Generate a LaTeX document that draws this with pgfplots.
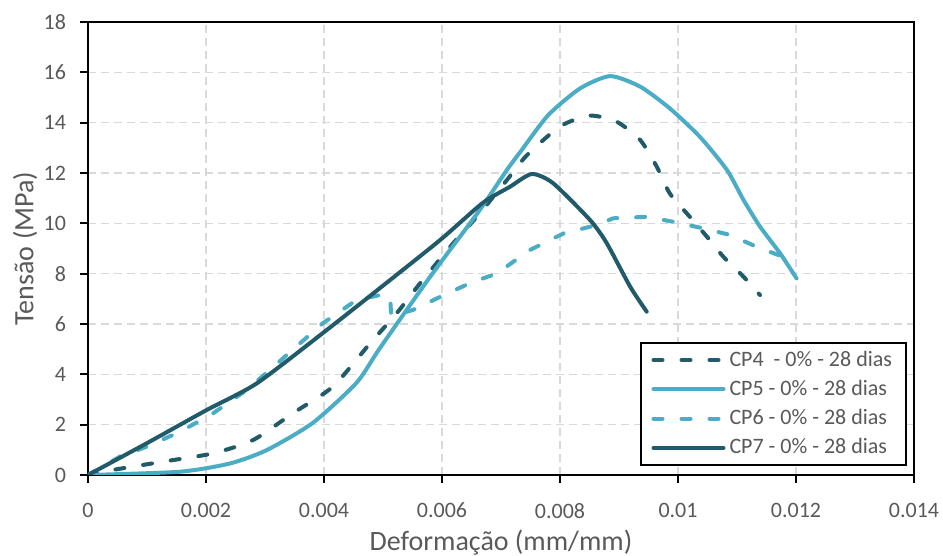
\documentclass[border=0pt]{standalone}
\usepackage{pgfplots}
\pgfplotsset{compat=1.18}
\usepackage{fontspec}
\setmainfont{Carlito}
\definecolor{darkteal}{HTML}{215B69}
\definecolor{lightaqua}{HTML}{4BACC6}
\definecolor{txtgray}{HTML}{595959}
\definecolor{gridgray}{HTML}{D9D9D9}

\begin{document}
\begin{tikzpicture}
\path[use as bounding box] (-44pt,-40.5pt) rectangle (427.5pt,237.5pt);
\begin{axis}[
  at={(0,0)}, anchor=south west,
  scale only axis,
  width=413pt, height=226.5pt,
  xmin=0, xmax=0.014,
  ymin=0, ymax=18,
  xtick={0,0.002,0.004,0.006,0.008,0.01,0.012,0.014},
  ytick={0,2,4,6,8,10,12,14,16,18},
  scaled x ticks=false,
  xticklabel style={/pgf/number format/fixed, /pgf/number format/precision=3, yshift=-6.5pt},
  yticklabel style={xshift=-3.5pt},
  /pgf/number format/assume math mode=true,
  tick align=outside,
  tick pos=left,
  major tick length=4pt,
  axis line style={black, line width=1pt},
  every tick/.style={black, line width=1pt},
  grid=major,
  major grid style={gridgray, line width=0.8pt, dash pattern=on 4pt off 2.5pt},
  tick label style={font=\fontsize{11}{13}\selectfont, text=txtgray},
  xlabel={Deformação (mm/mm)},
  ylabel={Tensão (MPa)},
  every axis x label/.style={at={(axis description cs:0.5,-0.150)}, anchor=center,
    font=\fontsize{14}{16}\selectfont, text=txtgray},
  every axis y label/.style={at={(axis description cs:-0.0763,0.5)}, anchor=center, rotate=90,
    font=\fontsize{14}{16}\selectfont, text=txtgray},
  legend style={at={(rel axis cs:1,0)}, anchor=south east, xshift=-3.5pt, yshift=4.5pt,
    draw=black, line width=1pt, font=\fontsize{11}{13}\selectfont, text=txtgray,
    row sep=1.5pt, inner xsep=5pt, inner ysep=2pt},
  legend cell align=left,
  legend image code/.code={\path (0pt,0pt); \draw[#1] (0.5pt,0pt) -- (35.5pt,0pt);},
  every axis plot/.append style={line width=2pt, line join=round, line cap=round},
]
% CP4
\addplot[darkteal, dash pattern=on 4.5pt off 9.5pt, smooth, tension=0.4] coordinates {
(0,0) (0.00042,0.2) (0.00127,0.53) (0.00212,0.86) (0.0028,1.39) (0.00347,2.45)
(0.00415,3.51) (0.00478,5.23) (0.00523,6.42) (0.00563,7.62) (0.00619,9.21)
(0.00659,10.26) (0.0071,11.72) (0.00744,12.71) (0.0080,13.85) (0.0085,14.28)
(0.00896,14.04) (0.00936,13.31) (0.00964,12.25) (0.00986,11.19) (0.0102,10.26)
(0.01049,9.47) (0.01077,8.67) (0.01111,7.88) (0.01139,7.15)
};
\addlegendentry{CP4~ - 0\% - 28 dias}
% CP5
\addplot[lightaqua, smooth, tension=0.4] coordinates {
(0,0) (0.00156,0.13) (0.00241,0.46) (0.00303,0.99) (0.00381,2.07) (0.00455,3.66)
(0.00495,5.05) (0.0058,7.88) (0.00664,10.53) (0.0071,12.12) (0.00735,12.91)
(0.0078,14.3) (0.00834,15.36) (0.00885,15.85) (0.00936,15.43) (0.00986,14.57)
(0.01037,13.44) (0.01083,12.12) (0.01111,10.93) (0.01139,9.87) (0.01173,8.81)
(0.01201,7.81)
};
\addlegendentry{CP5 - 0\% - 28 dias}
% CP6
\addplot[lightaqua, dash pattern=on 4.5pt off 9.5pt] coordinates {
(0,0) (0.00054,0.73) (0.00099,1.12) (0.00156,1.72) (0.00212,2.45) (0.00269,3.38)
(0.00308,4.17) (0.00398,6.03) (0.00455,6.95) (0.00495,7.15) (0.00512,7.08)
(0.00514,6.3) (0.00551,6.56) (0.00597,7.08) (0.00647,7.62) (0.00693,8.01)
(0.00749,8.94) (0.00806,9.6) (0.00862,9.93) (0.0089,10.2) (0.00947,10.26)
(0.00992,10.06) (0.01043,9.8) (0.01088,9.54) (0.01133,9.07) (0.01178,8.67)
};
\addlegendentry{CP6 - 0\% - 28 dias}
% CP7
\addplot[darkteal, smooth, tension=0.4] coordinates {
(0,0) (0.000995,1.26) (0.00201,2.58) (0.00286,3.64) (0.00398,5.64) (0.00495,7.43)
(0.00597,9.34) (0.00669,10.81) (0.00715,11.45) (0.00752,11.96) (0.00788,11.6)
(0.00851,10.13) (0.00879,9.22) (0.00919,7.48) (0.00947,6.49)
};
\addlegendentry{CP7 - 0\% - 28 dias}
\end{axis}
\end{tikzpicture}
\end{document}
